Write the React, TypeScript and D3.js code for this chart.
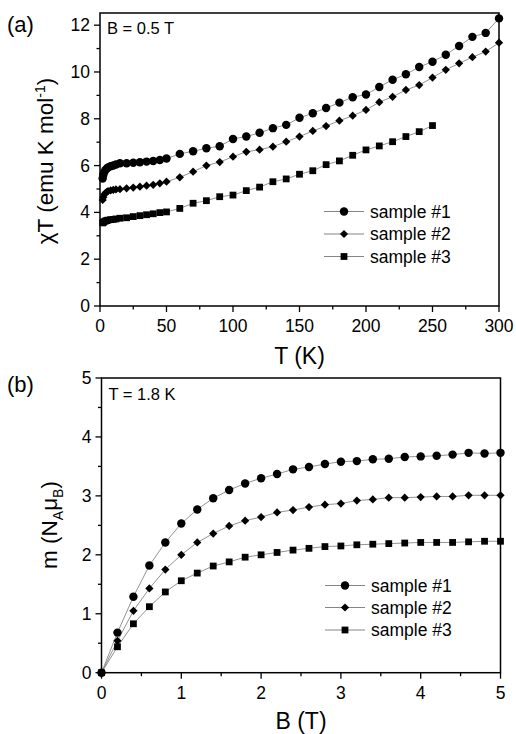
import React from "react";
import * as d3 from "d3";

// ---------- Data: panel (a) ----------
const T_s1 = [2, 2.5, 3, 4, 5, 6, 8, 10, 12, 15, 20, 25, 30, 35, 40, 45, 50, 60, 70, 80, 90, 100, 110, 120, 130, 140, 150, 160, 170, 180, 190, 200, 210, 220, 230, 240, 250, 260, 270, 280, 290, 300];
const chiT_s1 = [5.45, 5.6, 5.7, 5.8, 5.87, 5.92, 5.97, 6.0, 6.05, 6.1, 6.1, 6.12, 6.14, 6.17, 6.2, 6.24, 6.3, 6.5, 6.61, 6.74, 6.83, 7.14, 7.24, 7.4, 7.6, 7.74, 8.04, 8.24, 8.46, 8.69, 8.92, 9.04, 9.36, 9.67, 9.9, 10.21, 10.44, 10.74, 11.11, 11.5, 11.67, 12.29];
const T_s2 = [2, 2.5, 3, 4, 5, 6, 8, 10, 12, 15, 20, 25, 30, 35, 40, 45, 50, 60, 70, 80, 90, 100, 110, 120, 130, 140, 150, 160, 170, 180, 190, 200, 210, 220, 230, 240, 250, 260, 270, 280, 290, 300];
const chiT_s2 = [4.53, 4.65, 4.75, 4.82, 4.87, 4.91, 4.94, 4.96, 4.98, 4.99, 5.03, 5.06, 5.1, 5.14, 5.18, 5.24, 5.31, 5.5, 5.74, 6.0, 6.15, 6.38, 6.59, 6.68, 6.81, 7.02, 7.24, 7.48, 7.69, 7.92, 8.13, 8.38, 8.71, 8.94, 9.23, 9.44, 9.76, 10.09, 10.37, 10.63, 10.87, 11.25];
const T_s3 = [2, 2.5, 3, 4, 5, 6, 8, 10, 12, 15, 20, 25, 30, 35, 40, 45, 50, 60, 70, 80, 90, 100, 110, 120, 130, 140, 150, 160, 170, 180, 190, 200, 210, 220, 230, 240, 250];
const chiT_s3 = [3.55, 3.58, 3.6, 3.63, 3.65, 3.67, 3.69, 3.7, 3.72, 3.75, 3.77, 3.82, 3.86, 3.9, 3.94, 3.99, 4.02, 4.17, 4.39, 4.5, 4.67, 4.74, 4.93, 5.08, 5.31, 5.43, 5.63, 5.78, 6.04, 6.2, 6.44, 6.67, 6.84, 7.02, 7.24, 7.45, 7.71];

// ---------- Data: panel (b) ----------
const B_field = [0, 0.2, 0.4, 0.6, 0.8, 1.0, 1.2, 1.4, 1.6, 1.8, 2.0, 2.2, 2.4, 2.6, 2.8, 3.0, 3.2, 3.4, 3.6, 3.8, 4.0, 4.2, 4.4, 4.6, 4.8, 5.0];
const m_s1 = [0, 0.68, 1.29, 1.82, 2.21, 2.53, 2.77, 2.96, 3.1, 3.21, 3.3, 3.37, 3.45, 3.49, 3.54, 3.58, 3.59, 3.62, 3.63, 3.66, 3.67, 3.68, 3.7, 3.73, 3.72, 3.73];
const m_s2 = [0, 0.54, 1.05, 1.43, 1.75, 2.0, 2.21, 2.36, 2.49, 2.58, 2.64, 2.72, 2.76, 2.81, 2.85, 2.87, 2.92, 2.94, 2.97, 2.97, 2.98, 2.99, 2.99, 3.01, 3.01, 3.01];
const m_s3 = [0, 0.44, 0.83, 1.12, 1.37, 1.56, 1.69, 1.81, 1.88, 1.96, 2.0, 2.04, 2.08, 2.11, 2.14, 2.15, 2.17, 2.18, 2.19, 2.2, 2.21, 2.21, 2.21, 2.22, 2.23, 2.23];

const seriesNames = ["sample #1", "sample #2", "sample #3"];
const shapes = ["circle", "diamond", "square"];

const xTicksA = [0, 50, 100, 150, 200, 250, 300];
const yTicksA = [0, 2, 4, 6, 8, 10, 12];
const xTicksB = [0, 1, 2, 3, 4, 5];
const yTicksB = [0, 1, 2, 3, 4, 5];

const FONT = "'Liberation Sans', Arial, Helvetica, sans-serif";

function Marker({ shape, x, y }: { shape: string; x: number; y: number }) {
  let d: string;
  let rot = 0;
  if (shape === "circle") d = d3.symbol(d3.symbolCircle, 56)()!;
  else if (shape === "square") d = d3.symbol(d3.symbolSquare, 46)()!;
  else {
    d = d3.symbol(d3.symbolSquare, 34)()!;
    rot = 45;
  }
  return <path d={d} transform={`translate(${x},${y}) rotate(${rot})`} fill="#000" />;
}

function Panel(props: {
  x0: number; x1: number; y0: number; y1: number;
  xDomain: [number, number]; yDomain: [number, number];
  xTicks: number[]; yTicks: number[]; xMinorStep: number; yMinorStep: number;
  series: { xs: number[]; ys: number[]; shape: string }[];
  xTitle: React.ReactNode; yTitle: React.ReactNode; yTitleX: number; yTitleY: number;
  xTitleY: number; tickLabelY: number;
  label: string; labelY: number; note: string; noteY: number;
  legendX: number; legendY: number[];
}) {
  const xs = d3.scaleLinear().domain(props.xDomain).range([props.x0, props.x1]);
  const ys = d3.scaleLinear().domain(props.yDomain).range([props.y1, props.y0]);
  const line = d3.line<[number, number]>().x((d) => xs(d[0])).y((d) => ys(d[1]));
  const xMinor = d3.range(props.xDomain[0], props.xDomain[1] + 1e-9, props.xMinorStep).filter((v) => !props.xTicks.some((t) => Math.abs(t - v) < 1e-9));
  const yMinor = d3.range(props.yDomain[0], props.yDomain[1] + 1e-9, props.yMinorStep).filter((v) => !props.yTicks.some((t) => Math.abs(t - v) < 1e-9));
  return (
    <g fontFamily={FONT}>
      {props.series.map((s, i) => (
        <path key={"l" + i} d={line(s.xs.map((x, j) => [x, s.ys[j]]))!} fill="none" stroke="#777" strokeWidth={0.8} />
      ))}
      {props.series.map((s, i) =>
        s.xs.map((x, j) => <Marker key={"m" + i + "-" + j} shape={s.shape} x={xs(x)} y={ys(s.ys[j])} />)
      )}
      <rect x={props.x0} y={props.y0} width={props.x1 - props.x0} height={props.y1 - props.y0} fill="none" stroke="#000" strokeWidth={1.5} />
      {props.xTicks.map((t) => (
        <g key={"xt" + t}>
          <line x1={xs(t)} x2={xs(t)} y1={props.y1} y2={props.y1 + 6} stroke="#000" strokeWidth={1.3} />
          <text x={xs(t)} y={props.tickLabelY} textAnchor="middle" fontSize={17.5}>{t}</text>
        </g>
      ))}
      {xMinor.map((t) => (
        <line key={"xm" + t} x1={xs(t)} x2={xs(t)} y1={props.y1} y2={props.y1 + 3.5} stroke="#000" strokeWidth={1.3} />
      ))}
      {props.yTicks.map((t) => (
        <g key={"yt" + t}>
          <line x1={props.x0 - 6} x2={props.x0} y1={ys(t)} y2={ys(t)} stroke="#000" strokeWidth={1.3} />
          <text x={props.x0 - 10} y={ys(t) + 6} textAnchor="end" fontSize={17.5}>{t}</text>
        </g>
      ))}
      {yMinor.map((t) => (
        <line key={"ym" + t} x1={props.x0 - 3.5} x2={props.x0} y1={ys(t)} y2={ys(t)} stroke="#000" strokeWidth={1.3} />
      ))}
      <text x={(props.x0 + props.x1) / 2} y={props.xTitleY} textAnchor="middle" fontSize={23}>{props.xTitle}</text>
      <text transform={`translate(${props.yTitleX},${props.yTitleY}) rotate(-90)`} textAnchor="middle" fontSize={22.5}>{props.yTitle}</text>
      <text x={7} y={props.labelY} fontSize={22}>{props.label}</text>
      <text x={props.x0 + 7} y={props.noteY} fontSize={16.5}>{props.note}</text>
      {props.series.map((s, i) => (
        <g key={"lg" + i}>
          <line x1={props.legendX - 20} x2={props.legendX + 20} y1={props.legendY[i]} y2={props.legendY[i]} stroke="#777" strokeWidth={0.9} />
          <Marker shape={s.shape} x={props.legendX} y={props.legendY[i]} />
          <text x={props.legendX + 26} y={props.legendY[i] + 6} fontSize={17.5}>{seriesNames[i]}</text>
        </g>
      ))}
    </g>
  );
}

export default function App() {
  return (
    <svg width={516} height={734} style={{ position: "absolute", left: 0, top: 0, background: "#fff" }}>
      <rect width={516} height={734} fill="#fff" />
      <Panel
        x0={100} x1={499} y0={13} y1={306}
        xDomain={[0, 300]} yDomain={[0, 12.52]}
        xTicks={xTicksA} yTicks={yTicksA} xMinorStep={25} yMinorStep={1}
        series={[
          { xs: T_s1, ys: chiT_s1, shape: shapes[0] },
          { xs: T_s2, ys: chiT_s2, shape: shapes[1] },
          { xs: T_s3, ys: chiT_s3, shape: shapes[2] },
        ]}
        xTitle="T (K)" xTitleY={364} tickLabelY={332}
        yTitle={<>χT (emu K mol<tspan dy={-8} fontSize={14}>-1</tspan><tspan dy={8}>)</tspan></>}
        yTitleX={53} yTitleY={161}
        label="(a)" labelY={32} note="B = 0.5 T" noteY={34}
        legendX={344} legendY={[211.5, 234, 256.5]}
      />
      <Panel
        x0={101.5} x1={500.5} y0={378} y1={672.7}
        xDomain={[0, 5]} yDomain={[0, 5]}
        xTicks={xTicksB} yTicks={yTicksB} xMinorStep={0.5} yMinorStep={0.5}
        series={[
          { xs: B_field, ys: m_s1, shape: shapes[0] },
          { xs: B_field, ys: m_s2, shape: shapes[1] },
          { xs: B_field, ys: m_s3, shape: shapes[2] },
        ]}
        xTitle="B (T)" xTitleY={729} tickLabelY={698.5}
        yTitle={<>m (N<tspan dy={6} fontSize={14}>A</tspan><tspan dy={-6}>μ</tspan><tspan dy={6} fontSize={14}>B</tspan><tspan dy={-6}>)</tspan></>}
        yTitleX={57} yTitleY={525}
        label="(b)" labelY={392} note="T = 1.8 K" noteY={400}
        legendX={345} legendY={[585.5, 607.5, 630]}
      />
    </svg>
  );
}
